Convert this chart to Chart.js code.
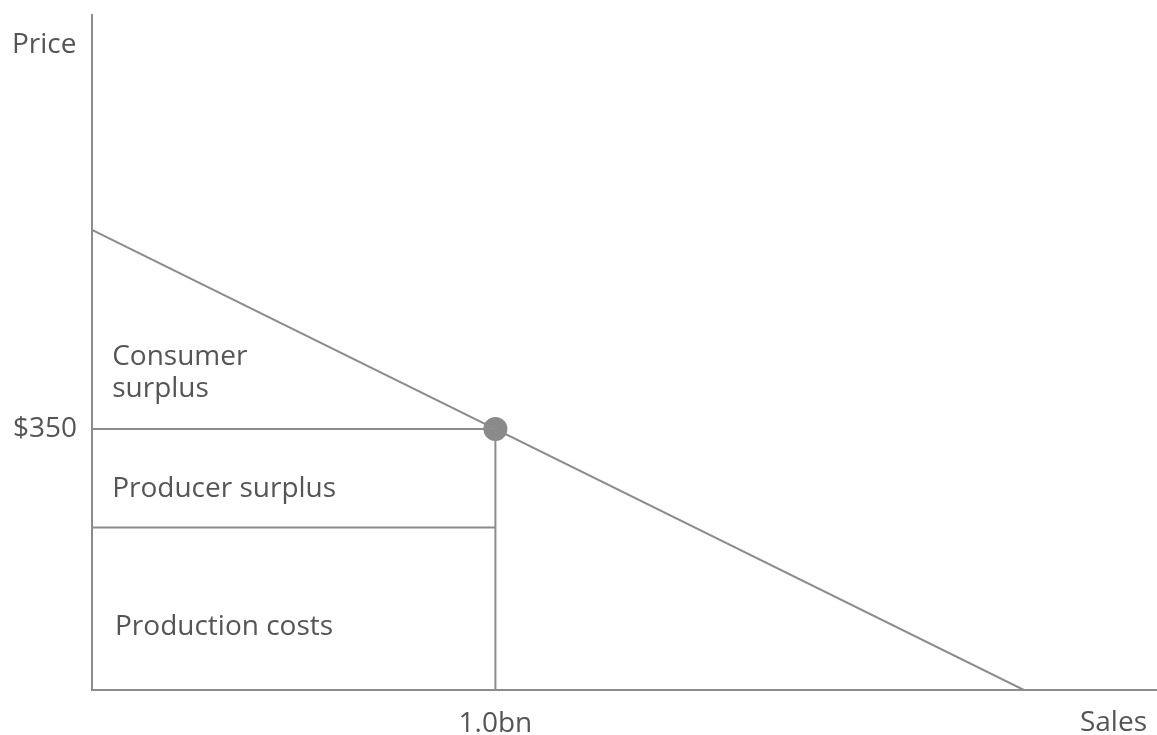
<!DOCTYPE html>
<html>
<head>
<meta charset="utf-8">
<script src="https://cdn.jsdelivr.net/npm/chart.js@4"></script>
<style>
  body { margin: 0; background: #fff; }
</style>
</head>
<body>
<canvas id="surplusChart" width="1157" height="735"></canvas>
<script>
// demand curve (sales in bn, price in $)
const demandSales = [0, 2.31];
const demandPrice = [617, 0];

// market equilibrium + cost level
const eqSales = 1.0;
const eqPrice = 350;
const costPrice = 218;

// tick labels
const xTicks = [1.0];
const yTicks = [350];

const lineColor = '#8c8c8c';
const textColor = '#555555';
const fontSize = 28;
const font = fontSize + 'px "Open Sans"';

// area labels, placed at data coords
const areaLabels = [
  { text: 'Consumer', x: 0.05, y: 446 },
  { text: 'surplus', x: 0.05, y: 404 },
  { text: 'Producer surplus', x: 0.05, y: 270 },
  { text: 'Production costs', x: 0.057, y: 84 }
];

const labelPlugin = {
  id: 'labelPlugin',
  afterDraw(chart) {
    const c = chart.ctx;
    const xs = chart.scales.x, ys = chart.scales.y;
    c.save();
    c.font = font;
    c.fillStyle = textColor;
    c.textBaseline = 'middle';
    c.textAlign = 'left';
    areaLabels.forEach(l => {
      c.fillText(l.text, xs.getPixelForValue(l.x), ys.getPixelForValue(l.y));
    });
    // axis names
    c.fillText('Price', 12, 45);
    c.textAlign = 'right';
    c.fillText('Sales', 1147, 723);
    c.restore();
  }
};

const line = (pts) => ({
  data: pts,
  showLine: true,
  borderColor: lineColor,
  borderWidth: 2,
  pointRadius: 0,
  fill: false
});

// kill the auto label padding chart.js adds around axes
const noPad = (s) => { s.paddingTop = s.paddingBottom = s.paddingLeft = s.paddingRight = 0; };

const ctx = document.getElementById('surplusChart').getContext('2d');
const surplusChart = new Chart(ctx, {
  type: 'scatter',
  data: {
    datasets: [
      line(demandSales.map((s, i) => ({ x: s, y: demandPrice[i] }))),
      line([{ x: 0, y: eqPrice }, { x: eqSales, y: eqPrice }]),
      line([{ x: 0, y: costPrice }, { x: eqSales, y: costPrice }]),
      line([{ x: eqSales, y: 0 }, { x: eqSales, y: eqPrice }]),
      {
        data: [{ x: eqSales, y: eqPrice }],
        pointRadius: 12,
        pointBackgroundColor: '#8a8a8a',
        pointBorderWidth: 0
      }
    ]
  },
  options: {
    responsive: false,
    animation: false,
    layout: { autoPadding: false, padding: { top: 15, right: 0, left: 0, bottom: 0 } },
    plugins: { legend: { display: false }, tooltip: { enabled: false } },
    scales: {
      x: {
        type: 'linear',
        min: 0,
        max: 2.64,
        grid: { display: false },
        border: { display: true, color: lineColor, width: 2 },
        afterBuildTicks: (s) => { s.ticks = xTicks.map(v => ({ value: v })); },
        afterFit: (s) => { s.height = 45; noPad(s); },
        ticks: {
          padding: 9,
          color: textColor,
          font: { family: 'Open Sans', size: fontSize },
          maxRotation: 0,
          callback: (v) => v.toFixed(1) + 'bn'
        }
      },
      y: {
        type: 'linear',
        min: 0,
        max: 905,
        grid: { display: false },
        border: { display: true, color: lineColor, width: 2 },
        afterBuildTicks: (s) => { s.ticks = yTicks.map(v => ({ value: v })); },
        afterFit: (s) => { s.width = 92; noPad(s); },
        ticks: {
          padding: 7,
          color: textColor,
          font: { family: 'Open Sans', size: fontSize },
          callback: (v) => '$' + v
        }
      }
    }
  },
  plugins: [labelPlugin]
});
</script>
</body>
</html>
